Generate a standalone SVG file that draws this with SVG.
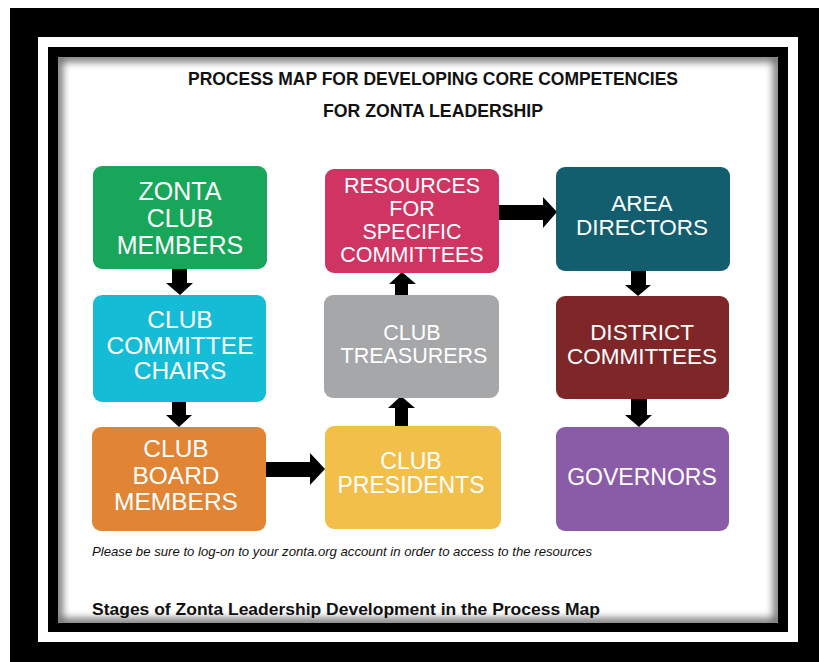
<svg xmlns="http://www.w3.org/2000/svg" width="819" height="662" viewBox="0 0 819 662">
<defs>
<style>
.lbl{font-family:"Liberation Sans",Arial,sans-serif;fill:#fff;text-anchor:middle}
.ttl{font-family:"Liberation Sans",Arial,sans-serif;font-weight:bold;fill:#111;text-anchor:middle;font-size:17.5px}
.arr{fill:#000}
</style>
<clipPath id="inner"><rect x="58" y="57" width="720" height="566"/></clipPath>
<filter id="blur" x="-5%" y="-5%" width="110%" height="110%"><feGaussianBlur stdDeviation="4"/></filter>
</defs>
<rect width="819" height="662" fill="#fff"/>
<rect x="10" y="8" width="809" height="654" fill="#000"/>
<rect x="38" y="37" width="760" height="605" fill="#fff"/>
<rect x="48" y="47" width="740" height="585" fill="#000"/>
<rect x="58" y="57" width="720" height="566" fill="#fff"/>
<text class="ttl" x="433" y="85" textLength="490" lengthAdjust="spacingAndGlyphs">PROCESS MAP FOR DEVELOPING CORE COMPETENCIES</text>
<text class="ttl" x="433" y="117" textLength="220" lengthAdjust="spacingAndGlyphs">FOR ZONTA LEADERSHIP</text>

<g id="connectors" class="arr">
<polygon points="172,269 187,269 187,283 193,283 180,295 166,283 172,283"/>
<polygon points="172,402 186,402 186,415 192,415 179,427 166,415 172,415"/>
<polygon points="266,462 310,462 310,453 325,469 310,485 310,477 266,477"/>
<polygon points="395,426 408,426 408,408 415,408 401,396 388,408 395,408"/>
<polygon points="395,295 408,295 408,284 416,284 402,272 389,284 395,284"/>
<polygon points="499,205 543,205 543,197 557,212 543,228 543,220 499,220"/>
<polygon points="631,271 646,271 646,285 651,285 638,296 625,285 631,285"/>
<polygon points="631,399 647,399 647,415 652,415 639,427 625,415 631,415"/>
</g>

<g id="zonta-club-members">
<rect x="93" y="166" width="174" height="103" rx="9" fill="#18a65a"/>
<text class="lbl" font-size="25" x="180" y="200">ZONTA</text>
<text class="lbl" font-size="25" x="180" y="227">CLUB</text>
<text class="lbl" font-size="25" x="180" y="254">MEMBERS</text>
</g>
<g id="club-committee-chairs">
<rect x="93" y="295" width="173" height="107" rx="9" fill="#15bcd5"/>
<text class="lbl" font-size="24.5" x="180" y="328">CLUB</text>
<text class="lbl" font-size="24.5" x="180" y="354">COMMITTEE</text>
<text class="lbl" font-size="24.5" x="180" y="379">CHAIRS</text>
</g>
<g id="club-board-members">
<rect x="92" y="427" width="174" height="104" rx="9" fill="#e18433"/>
<text class="lbl" font-size="24.5" x="176" y="457">CLUB</text>
<text class="lbl" font-size="24.5" x="176" y="484">BOARD</text>
<text class="lbl" font-size="24.5" x="176" y="510">MEMBERS</text>
</g>
<g id="club-presidents">
<rect x="325" y="426" width="176" height="103" rx="9" fill="#f2bf4b"/>
<text class="lbl" font-size="23" x="411" y="469">CLUB</text>
<text class="lbl" font-size="23" x="411" y="493">PRESIDENTS</text>
</g>
<g id="club-treasurers">
<rect x="324" y="295" width="175" height="103" rx="9" fill="#a6a7a9"/>
<text class="lbl" font-size="21.5" x="412" y="340">CLUB</text>
<text class="lbl" font-size="21.5" x="414" y="363">TREASURERS</text>
</g>
<g id="resources-for-specific-committees">
<rect x="325" y="169" width="174" height="104" rx="9" fill="#cf3463"/>
<text class="lbl" font-size="21.5" x="412" y="193">RESOURCES</text>
<text class="lbl" font-size="21.5" x="412" y="216">FOR</text>
<text class="lbl" font-size="21.5" x="412" y="239">SPECIFIC</text>
<text class="lbl" font-size="21.5" x="412" y="262">COMMITTEES</text>
</g>
<g id="area-directors">
<rect x="556" y="167" width="174" height="104" rx="9" fill="#135e6e"/>
<text class="lbl" font-size="22.5" x="642" y="211">AREA</text>
<text class="lbl" font-size="22.5" x="642" y="235">DIRECTORS</text>
</g>
<g id="district-committees">
<rect x="556" y="296" width="173" height="103" rx="9" fill="#7f2629"/>
<text class="lbl" font-size="22.5" x="642" y="340">DISTRICT</text>
<text class="lbl" font-size="22.5" x="642" y="364">COMMITTEES</text>
</g>
<g id="governors">
<rect x="556" y="427" width="173" height="104" rx="9" fill="#8a5ba6"/>
<text class="lbl" font-size="23" x="642" y="485">GOVERNORS</text>
</g>

<text x="92" y="556" font-family="'Liberation Sans',Arial,sans-serif" font-style="italic" font-size="13.2" fill="#111" textLength="500" lengthAdjust="spacingAndGlyphs">Please be sure to log-on to your zonta.org account in order to access to the resources</text>
<text x="92" y="615" font-family="'Liberation Sans',Arial,sans-serif" font-weight="bold" font-size="16.5" fill="#111" textLength="508" lengthAdjust="spacingAndGlyphs">Stages of Zonta Leadership Development in the Process Map</text>
<g clip-path="url(#inner)" pointer-events="none">
<rect x="58" y="57" width="720" height="566" fill="none" stroke="#000" stroke-width="8" opacity="0.65" filter="url(#blur)"/>
</g>
</svg>
